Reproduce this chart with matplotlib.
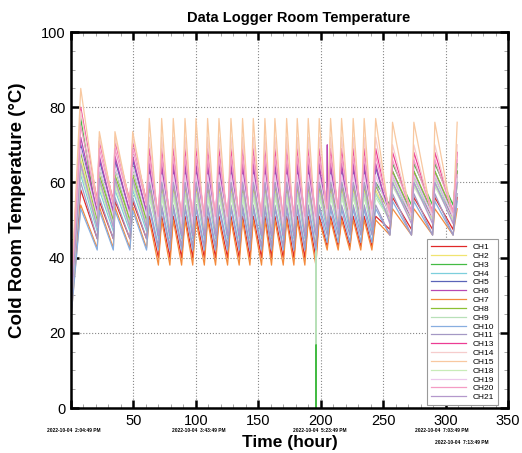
import numpy as np
import matplotlib.pyplot as plt
from matplotlib.ticker import MultipleLocator

plt.rcParams['font.family'] = ['Liberation Sans', 'DejaVu Sans']

channels = ["CH1", "CH2", "CH3", "CH4", "CH5", "CH6", "CH7", "CH8", "CH9",
            "CH10", "CH11", "CH13", "CH14", "CH15", "CH18", "CH19", "CH20", "CH21"]
colors = ["#e02828", "#f0e470", "#44bb44", "#7ccfdc", "#5a64b8", "#b848b4",
          "#f48a3c", "#8cc034", "#b8e0b8", "#88aee0", "#a498c4", "#ec3c94",
          "#f6cccc", "#f8c8a0", "#c8ecb8", "#ecc8ec", "#f49cc4", "#b498cc"]

# values read per channel (deg C)
start_val   = [26, 27, 28, 26, 27, 28, 24, 27, 26, 24, 25, 29, 28, 30, 26, 27, 28, 26]
first_peak  = [58, 66, 77, 62, 70, 72, 54, 68, 64, 53, 60, 80, 79, 85, 63, 69, 75, 65]
early_peak  = [55, 60, 64, 58, 66, 67, 53.5, 62, 60, 52.5, 56, 71, 72, 73.5, 59, 64, 69, 61]
early_trough = [45, 49, 50, 47, 52, 52, 42.5, 50, 49, 42, 45, 55, 54, 54, 48, 51, 54, 48]
mid_peak    = [51, 58, 60, 57, 64, 65, 50, 59, 57, 53, 54, 69, 72, 77, 56, 62, 67, 60]
mid_trough  = [40, 47, 50, 45, 48, 46, 38, 50, 48, 42, 43, 50, 48, 47, 47, 49, 51, 46]
mid_trough2 = [43, 49, 52, 47, 50, 49, 42, 51, 50, 44, 46, 52, 50, 49, 49, 51, 53, 48]
late_peak   = [56, 60, 65, 60, 63, 62, 53, 63, 61, 55, 57, 68, 70, 76, 59, 62, 66, 60]
late_trough = [47.5, 50, 54, 50, 51, 50, 46, 52, 51, 46, 46, 52, 51, 50, 50, 51, 52, 49]

# cycle times (hours)
first_peak_t = 7.8
early_trough_t = [21.0, 33.9, 47.2, 60.5]
early_peak_t = [22.7, 35.2, 49.4, 62.7]
mid_trough_t = [70.0, 79.2, 88.6, 97.5, 106.8, 115.8, 125.4, 134.7, 143.3, 152.6,
                160.6, 170.0, 178.5, 187.3, 196.1, 205.2, 214.0, 223.3, 232.1, 241.0]
mid_peak_t = [72.6, 81.9, 91.3, 100.1, 109.4, 118.5, 128.1, 137.4, 146.0, 155.3,
              163.3, 172.7, 181.2, 190.0, 198.8, 207.9, 216.7, 226.0, 234.8, 244.0]
late_trough_t = [255.4, 272.7, 289.6, 306.0]
late_peak_t = [257.5, 274.6, 291.4, 309.3]

# sensor glitches
glitch_ch = ["CH3", "CH9", "CH6"]
glitch_t = [196.1, 196.1, 205.2]
glitch_v = [0, 17, 70]

date_labels = ["2022-10-04  2:04:49 PM", "2022-10-04  3:43:49 PM", "2022-10-04  5:23:49 PM",
               "2022-10-04  7:03:49 PM", "2022-10-04  7:13:49 PM"]
date_pos = [(74, 431), (199, 430), (320, 431), (442, 431), (462, 442)]


def series(i):
    t = [0.0, first_peak_t]
    v = [start_val[i], first_peak[i]]
    for k in range(len(early_trough_t)):
        t += [early_trough_t[k], early_peak_t[k]]
        pk = mid_peak[i] if k == len(early_trough_t) - 1 else early_peak[i]
        v += [early_trough[i], pk]
    for k in range(len(mid_trough_t)):
        tr = mid_trough[i] if mid_trough_t[k] < 200 else mid_trough2[i]
        t += [mid_trough_t[k], mid_peak_t[k]]
        v += [tr, mid_peak[i]]
    for k in range(len(late_trough_t)):
        t += [late_trough_t[k], late_peak_t[k]]
        v += [late_trough[i], late_peak[i]]
    for c, gt, gv in zip(glitch_ch, glitch_t, glitch_v):
        if c == channels[i]:
            j = t.index(gt)
            t[j + 1:j + 1] = [gt + 0.05, gt + 0.1]
            v[j + 1:j + 1] = [gv, v[j]]
    return np.array(t), np.array(v)


fig = plt.figure(figsize=(5.22, 4.53), dpi=100)
W, H = 522, 453
ax = fig.add_axes([71 / W, 1 - 408 / H, 437 / W, 376 / H])

for i, ch in enumerate(channels):
    t, v = series(i)
    ax.plot(t, v, color=colors[i], lw=0.9, label=ch)

ax.set_xlim(0, 350)
ax.set_ylim(0, 100)
ax.set_xticks(np.arange(0, 351, 50))
ax.set_xticklabels([""] + [str(x) for x in range(50, 351, 50)])
ax.set_yticks(np.arange(0, 101, 20))
ax.xaxis.set_minor_locator(MultipleLocator(10))
ax.yaxis.set_minor_locator(MultipleLocator(5))
ax.tick_params(which="major", direction="in", length=6, width=1.8, top=True, right=True,
               labelsize=10.5, pad=4)
ax.tick_params(which="minor", direction="in", length=3, width=0.6, top=True, right=True,
               color="#999999")
for s in ax.spines.values():
    s.set_linewidth(1.8)
ax.grid(True, which="major", linestyle=":", color="#888888", lw=0.8)
ax.set_axisbelow(True)

leg = ax.legend(loc="lower right", bbox_to_anchor=(0.976, 0.008), borderaxespad=0,
                fontsize=6, handlelength=4.2, labelspacing=0.12, fancybox=False,
                edgecolor="#999999", framealpha=1, borderpad=0.45, handletextpad=0.8)
leg.get_frame().set_linewidth(0.8)

fig.text(299 / W, 1 - 18 / H, "Data Logger Room Temperature", ha="center", va="center",
         fontsize=10.5, fontweight="bold")
fig.text(18 / W, 1 - 210 / H, "Cold Room Temperature (\u00b0C)", ha="center", va="center",
         rotation=90, fontsize=13.5, fontweight="bold")
fig.text(290 / W, 1 - 443 / H, "Time (hour)", ha="center", va="center",
         fontsize=12.5, fontweight="bold")
for s, (px, py) in zip(date_labels, date_pos):
    fig.text(px / W, 1 - py / H, s, ha="center", va="center", fontsize=3.5, fontweight="bold")

fig.savefig("out.png", dpi=100)
